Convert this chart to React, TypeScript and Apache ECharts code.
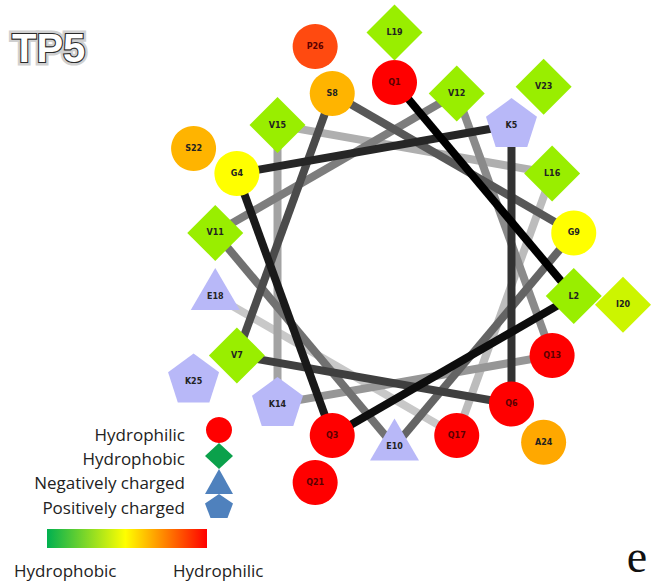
import React, { useEffect, useRef } from "react";
import * as echarts from "echarts";

// ---- Data ----
const titleText = "TP5";
const panelLetter = "e";
const residues = [
  "Q1", "L2", "Q3", "G4", "K5", "Q6", "V7", "S8", "G9", "E10", "V11", "V12", "Q13",
  "K14", "V15", "L16", "Q17", "E18", "L19", "I20", "Q21", "S22", "V23", "A24", "K25", "P26",
];
// wheel angle of each residue (degrees, clockwise from top)
const angles = [
  0, 100, 200, 300, 40, 140, 240, 340, 80, 180, 280, 20, 120,
  220, 320, 60, 160, 260, 0, 100, 200, 300, 40, 140, 240, 340,
];
// helical turn (ring) of each residue
const turns = [
  1, 1, 1, 1, 1, 1, 1, 1, 1, 1, 1, 1, 1,
  1, 1, 1, 1, 1, 2, 2, 2, 2, 2, 2, 2, 2,
];
const legendLabels = ["Hydrophilic", "Hydrophobic", "Negatively charged", "Positively charged"];
const scaleLabels = ["Hydrophobic", "Hydrophilic"];

// ---- Styles ----
const aaColor: Record<string, string> = {
  Q: "#ff0000",
  L: "#99ee00",
  V: "#99ee00",
  I: "#ccf500",
  G: "#ffff00",
  S: "#ffb400",
  A: "#ffa800",
  P: "#ff4a10",
  K: "#b8b8f8",
  E: "#b8b8f8",
};
const PENTAGON = "path://M0,-100L95.1,-30.9L58.8,80.9L-58.8,80.9L-95.1,-30.9Z";

function symbolFor(aa: string) {
  if (aa === "V" || aa === "L" || aa === "I")
    return { symbol: "diamond", symbolSize: [56, 56], symbolOffset: [0, 0], labelOffset: [0, 0] };
  if (aa === "E")
    return { symbol: "triangle", symbolSize: [49, 42], symbolOffset: [0, -7], labelOffset: [0, 7] };
  if (aa === "K")
    return { symbol: PENTAGON, symbolSize: [51, 49], symbolOffset: [0, -2.5], labelOffset: [0, 3] };
  return { symbol: "circle", symbolSize: 45, symbolOffset: [0, 0], labelOffset: [0, 0] };
}

export default function App() {
  const ref = useRef<HTMLDivElement>(null);
  useEffect(() => {
    if (!ref.current) return;
    const chart = echarts.init(ref.current, undefined, { renderer: "svg" });

    // chord lines between consecutive residues of the first turn
    const segs: any[] = [];
    const nSeg = turns.filter((t) => t === 1).length - 1;
    for (let i = 0; i < residues.length - 1; i++) {
      if (turns[i] !== 1 || turns[i + 1] !== 1) continue;
      const g = Math.round((i * 200) / (nSeg - 1));
      const col = `rgb(${g},${g},${g})`;
      segs.push({
        type: "line",
        coordinateSystem: "polar",
        showSymbol: false,
        silent: true,
        clip: false,
        z: 2,
        lineStyle: { color: col, width: 8, cap: "butt" },
        data: [
          [turns[i], angles[i]],
          [turns[i + 1], angles[i + 1]],
        ],
      });
    }
    segs.reverse(); // darker lines on top

    const nodes = residues.map((name, i) => {
      const aa = name[0];
      const s = symbolFor(aa);
      return {
        name,
        value: [turns[i], angles[i]],
        symbol: s.symbol,
        symbolSize: s.symbolSize,
        symbolOffset: s.symbolOffset,
        itemStyle: { color: aaColor[aa], opacity: 1 },
        label: {
          offset: s.labelOffset,
          color: aa === "Q" || aa === "P" ? "#5a0000" : "#222",
        },
      };
    });

    const legendY = [434, 458, 482, 507];
    const legendShapes: any[] = [
      { type: "circle", shape: { cx: 219, cy: 430, r: 13 }, style: { fill: "#ff0000" } },
      {
        type: "polygon",
        shape: { points: [[219, 443], [233, 456], [219, 469], [205, 456]] },
        style: { fill: "#0ba14b" },
      },
      {
        type: "polygon",
        shape: { points: [[219, 469], [233, 494], [205, 494]] },
        style: { fill: "#4f81bd" },
      },
      {
        type: "polygon",
        shape: {
          points: [[219, 494], [233, 503.5], [227.5, 518], [210.5, 518], [205, 503.5]],
        },
        style: { fill: "#4f81bd" },
      },
    ];
    const legendFont = '17px "Open Sans", sans-serif';
    const titleFont = 'bold 40px "Liberation Sans", Arial, sans-serif';

    const option: any = {
      animation: false,
      // full disc so that chords crossing the middle are not clipped;
      // radius axis maps turn 1 -> 182px, turn 2 -> 232px
      polar: { center: [394.5, 264.5], radius: [0, 232] },
      angleAxis: {
        type: "value",
        min: 0,
        max: 360,
        startAngle: 90,
        clockwise: true,
        axisLine: { show: false },
        axisTick: { show: false },
        axisLabel: { show: false },
        splitLine: { show: false },
      },
      radiusAxis: {
        type: "value",
        min: -2.64,
        max: 2,
        axisLine: { show: false },
        axisTick: { show: false },
        axisLabel: { show: false },
        splitLine: { show: false },
      },
      series: [
        ...segs,
        {
          type: "scatter",
          coordinateSystem: "polar",
          z: 5,
          silent: true,
          clip: false,
          label: {
            show: true,
            position: "inside",
            formatter: "{b}",
            fontSize: 8,
            fontWeight: "bold",
            fontFamily: "DejaVu Sans",
          },
          data: nodes,
        },
      ],
      graphic: [
        {
          type: "text",
          x: 12,
          y: 48,
          silent: true,
          style: {
            text: titleText,
            font: titleFont,
            fill: "#ffffff",
            stroke: "#d0d0d0",
            lineWidth: 7,
            align: "left",
            textAlign: "left",
            verticalAlign: "middle",
            textVerticalAlign: "middle",
          },
        },
        {
          type: "text",
          x: 12,
          y: 48,
          style: {
            text: titleText,
            font: titleFont,
            fill: "#ffffff",
            stroke: "#2a2a2a",
            lineWidth: 2.2,
            align: "left",
            textAlign: "left",
            verticalAlign: "middle",
            textVerticalAlign: "middle",
          },
        },
        ...legendLabels.map((t, i) => ({
          type: "text",
          x: 185,
          y: legendY[i],
          style: {
            text: t,
            font: legendFont,
            fill: "#222",
            align: "right",
            textAlign: "right",
            verticalAlign: "middle",
            textVerticalAlign: "middle",
          },
        })),
        ...legendShapes,
        {
          type: "rect",
          shape: { x: 47, y: 529, width: 160, height: 19 },
          style: {
            fill: new echarts.graphic.LinearGradient(0, 0, 1, 0, [
              { offset: 0, color: "#00b050" },
              { offset: 0.49, color: "#ffff00" },
              { offset: 1, color: "#ff0000" },
            ]),
          },
        },
        {
          type: "text",
          x: 14,
          y: 570,
          style: {
            text: scaleLabels[0],
            font: legendFont,
            fill: "#222",
            align: "left",
            textAlign: "left",
            verticalAlign: "middle",
            textVerticalAlign: "middle",
          },
        },
        {
          type: "text",
          x: 173,
          y: 570,
          style: {
            text: scaleLabels[1],
            font: legendFont,
            fill: "#222",
            align: "left",
            textAlign: "left",
            verticalAlign: "middle",
            textVerticalAlign: "middle",
          },
        },
        {
          type: "text",
          x: 637,
          y: 556,
          style: {
            text: panelLetter,
            font: '46px "Liberation Serif", serif',
            fill: "#111",
            align: "center",
            textAlign: "center",
            verticalAlign: "middle",
            textVerticalAlign: "middle",
          },
        },
      ],
    };
    chart.setOption(option);
    return () => chart.dispose();
  }, []);
  return (
    <div
      ref={ref}
      style={{ position: "absolute", left: 0, top: 0, width: 653, height: 585, background: "#fff" }}
    />
  );
}
